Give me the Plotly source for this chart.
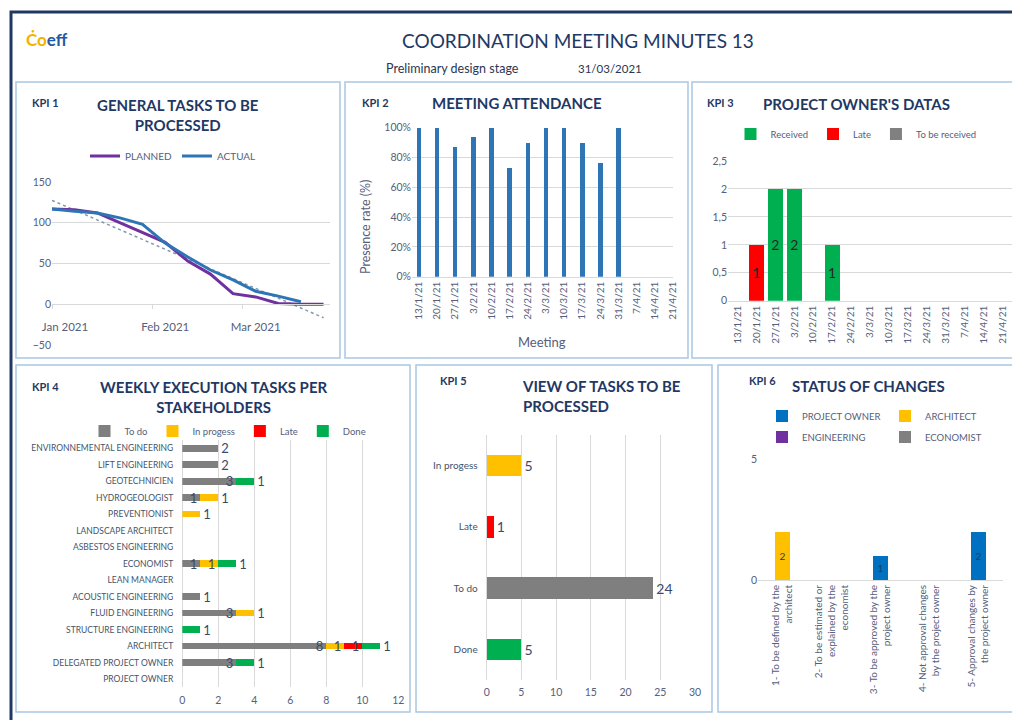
import numpy as np
import plotly.graph_objects as go

W, H = 1020, 720
# the page body keeps an 8 px margin, so layout positions are shifted by it
OX, OY = 8, 8

# KPI 1 - general tasks to be processed (weekly)
week_dates = ["2021-01-01", "2021-01-08", "2021-01-15", "2021-01-22", "2021-01-29",
              "2021-02-05", "2021-02-12", "2021-02-19", "2021-02-26",
              "2021-03-05", "2021-03-12", "2021-03-19", "2021-03-26"]
planned = [117, 116, 112, 100, 87, 76, 53, 37, 13, 9, 1, 0, 0]
actual = [117, 114, 112, 106, 98, 75, 58, 42, 30, 16, 10, 3]

# KPI 2 / KPI 3 - meetings
meetings = ["13/1/21", "20/1/21", "27/1/21", "3/2/21", "10/2/21", "17/2/21", "24/2/21",
            "3/3/21", "10/3/21", "17/3/21", "24/3/21", "31/3/21", "7/4/21", "14/4/21", "21/4/21"]
attendance = [1.0, 1.0, 0.87, 0.94, 1.0, 0.73, 0.90, 1.0, 1.0, 0.90, 0.76, 1.0, None, None, None]
data_received = [None, None, 2, 2, None, 1, None, None, None, None, None, None, None, None, None]
data_late = [None, 1, None, None, None, None, None, None, None, None, None, None, None, None, None]
data_to_receive = [None] * 15

# KPI 4 - weekly execution tasks per stakeholder
stakeholders = ["ENVIRONNEMENTAL ENGINEERING", "LIFT ENGINEERING", "GEOTECHNICIEN",
                "HYDROGEOLOGIST", "PREVENTIONIST", "LANDSCAPE ARCHITECT",
                "ASBESTOS ENGINEERING", "ECONOMIST", "LEAN MANAGER",
                "ACOUSTIC ENGINEERING", "FLUID ENGINEERING", "STRUCTURE ENGINEERING",
                "ARCHITECT", "DELEGATED PROJECT OWNER", "PROJECT OWNER"]
wk_todo = [2, 2, 3, 1, None, None, None, 1, None, 1, 3, None, 8, 3, None]
wk_inprog = [None, None, None, 1, 1, None, None, 1, None, None, 1, None, 1, None, None]
wk_late = [None, None, None, None, None, None, None, None, None, None, None, None, 1, None, None]
wk_done = [None, None, 1, None, None, None, None, 1, None, None, None, 1, 1, 1, None]

# KPI 5 - view of tasks
status_labels = ["In progess", "Late", "To do", "Done"]
status_counts = [5, 1, 24, 5]

# KPI 6 - status of changes
change_steps = ["1- To be defined by the<br>architect",
                "2- To be estimated or<br>explained by the<br>economist",
                "3- To be approved by the<br>project owner",
                "4- Not approval changes<br>by the project owner",
                "5- Approval changes by<br>the project owner"]
chg_owner = [None, None, 1, None, 2]
chg_architect = [2, None, None, None, None]
chg_engineering = [None] * 5
chg_economist = [None] * 5

NAVY = "#1f3864"
AXIS = "#56607a"
GRID = "#d9d9d9"
GREY = "#7f7f7f"
YELLOW = "#ffc000"
RED = "#ff0000"
GREEN = "#00b050"
BLUE = "#2e75b6"


def X(px):
    return (px - OX) / W


def Y(py):
    return 1 - (py - OY) / H


def labels(vals):
    return [str(v) if v else "" for v in vals]


fig = go.Figure()

# ---- KPI 1
idx = np.arange(len(planned))
coef = np.polyfit(idx, planned, 1)
trend = np.polyval(coef, idx)
fig.add_trace(go.Scatter(x=week_dates, y=trend, mode="lines", showlegend=False,
                         line=dict(color="#8497b0", width=1.5, dash="dot")))
fig.add_trace(go.Scatter(x=week_dates, y=planned, mode="lines", name="PLANNED",
                         line=dict(color="#7030a0", width=3)))
fig.add_trace(go.Scatter(x=week_dates[:len(actual)], y=actual, mode="lines", name="ACTUAL",
                         line=dict(color=BLUE, width=3)))

# ---- KPI 2
fig.add_trace(go.Bar(x=meetings, y=attendance, width=0.25, marker_color=BLUE,
                     showlegend=False, xaxis="x2", yaxis="y2"))

# ---- KPI 3
for name, vals, col in [("Received", data_received, GREEN), ("Late", data_late, RED),
                        ("To be received", data_to_receive, "#808080")]:
    fig.add_trace(go.Bar(x=meetings, y=vals, name=name, marker_color=col, width=0.78,
                         text=labels(vals), textposition="inside", insidetextanchor="middle",
                         textangle=0, constraintext="none",
                         textfont=dict(size=14, color="#262626"),
                         xaxis="x3", yaxis="y3", legend="legend2"))

# ---- KPI 4
for name, vals, col, anchor in [("To do", wk_todo, GREY, "end"),
                                ("In progess", wk_inprog, YELLOW, "middle"),
                                ("Late", wk_late, RED, "middle"),
                                ("Done", wk_done, GREEN, "middle")]:
    fig.add_trace(go.Bar(y=stakeholders, x=vals, orientation="h", name=name,
                         marker_color=col, width=0.4,
                         text=labels(vals), textposition="outside", insidetextanchor=anchor,
                         textangle=0, constraintext="none", cliponaxis=False,
                         textfont=dict(size=13, color="#3b4a6b"),
                         xaxis="x4", yaxis="y4", legend="legend3"))

# ---- KPI 5
fig.add_trace(go.Bar(y=status_labels, x=status_counts, orientation="h", width=0.35,
                     marker_color=[YELLOW, RED, GREY, GREEN], showlegend=False,
                     text=[str(v) for v in status_counts], textposition="outside",
                     textangle=0, constraintext="none", cliponaxis=False,
                     textfont=dict(size=14, color="#3b4a6b"),
                     xaxis="x5", yaxis="y5"))

# ---- KPI 6
for name, vals, col, lg in [("PROJECT OWNER", chg_owner, "#0070c0", "legend4"),
                            ("ARCHITECT", chg_architect, YELLOW, "legend4"),
                            ("ENGINEERING", chg_engineering, "#7030a0", "legend5"),
                            ("ECONOMIST", chg_economist, "#808080", "legend5")]:
    fig.add_trace(go.Bar(x=change_steps, y=vals, name=name, marker_color=col, width=0.32,
                         text=labels(vals), textposition="inside", insidetextanchor="middle",
                         textangle=0, constraintext="none",
                         textfont=dict(size=10, color=NAVY),
                         xaxis="x6", yaxis="y6", legend=lg))

tick_font = dict(size=10.5, color=AXIS)

# KPI 1 x axis sits on the zero line
k1_ydom = [Y(345), Y(182)]
k1_yrange = [-50, 150]
k1_xpos = k1_ydom[0] + (0 - k1_yrange[0]) / (k1_yrange[1] - k1_yrange[0]) * (k1_ydom[1] - k1_ydom[0])

leg_common = dict(orientation="h", bgcolor="rgba(0,0,0,0)", traceorder="normal",
                  font=dict(size=9.5, color=AXIS), yanchor="middle")

fig.update_layout(
    template="none",
    width=W, height=H, autosize=False,
    margin=dict(l=0, r=0, t=0, b=0, pad=0, autoexpand=False),
    paper_bgcolor="white", plot_bgcolor="white",
    font=dict(family="Lato, 'Open Sans', sans-serif", color=AXIS),
    separators=", ",
    barmode="stack",
    bargap=0.3,
    xaxis=dict(domain=[X(52), X(330)], anchor="free", position=k1_xpos, type="date",
               range=["2021-01-01", "2021-03-28"], dtick="M1", tickformat="%b %Y",
               ticks="outside", ticklen=4, tickcolor=GRID, showline=True, linecolor=GRID,
               showgrid=False, ticklabelshift=13, ticklabelstandoff=8,
               tickfont=dict(size=11.5, color=AXIS)),
    yaxis=dict(domain=k1_ydom, anchor="x", range=k1_yrange, dtick=50, gridcolor=GRID,
               zeroline=False, ticks="", tickfont=tick_font),
    xaxis2=dict(domain=[X(412), X(673)], anchor="y2", type="category", range=[-0.38, 14.0],
                tickangle=-90, showline=True, linecolor=GRID, showgrid=False, ticks="",
                tickfont=dict(size=10, color=AXIS)),
    yaxis2=dict(domain=[Y(276.7), Y(127.7)], anchor="x2", range=[0, 1], dtick=0.2,
                tickformat=".0%", gridcolor=GRID, zeroline=False, ticks="", tickfont=tick_font),
    xaxis3=dict(domain=[X(728), X(1012)], anchor="y3", type="category", range=[-0.5, 14.5],
                tickangle=-90, showline=True, linecolor=GRID, showgrid=False, ticks="",
                tickfont=dict(size=10, color=AXIS)),
    yaxis3=dict(domain=[Y(300.7), Y(161)], anchor="x3", range=[0, 2.5], dtick=0.5,
                gridcolor=GRID, zeroline=False, ticks="", tickfont=tick_font),
    xaxis4=dict(domain=[X(182.3), X(398.3)], anchor="y4", range=[0, 12], dtick=2,
                gridcolor=GRID, zeroline=True, zerolinecolor=GRID, ticks="", tickfont=tick_font,
                ticklabelstandoff=5),
    yaxis4=dict(domain=[Y(687.3), Y(440)], anchor="x4", type="category", autorange="reversed",
                showgrid=False, ticks="", tickfont=dict(size=8.5, color="#44546a"),
                ticklabelstandoff=8),
    xaxis5=dict(domain=[X(486.7), X(695)], anchor="y5", range=[0, 30], dtick=5,
                gridcolor=GRID, zeroline=True, zerolinecolor=GRID, ticks="", tickfont=tick_font,
                ticklabelstandoff=4),
    yaxis5=dict(domain=[Y(680), Y(435)], anchor="x5", type="category", autorange="reversed",
                showgrid=False, ticks="", tickfont=dict(size=10, color="#44546a"),
                ticklabelstandoff=8),
    xaxis6=dict(domain=[X(758), X(1003)], anchor="y6", type="category", tickangle=-90,
                showline=True, linecolor=GRID, showgrid=False, ticks="",
                tickfont=dict(size=10, color=AXIS)),
    yaxis6=dict(domain=[Y(580), Y(459)], anchor="x6", range=[0, 5], dtick=5,
                gridcolor=GRID, zeroline=False, ticks="", tickfont=tick_font),
    legend=dict(leg_common, x=X(173), y=Y(156), xanchor="center", font=dict(size=10, color=AXIS)),
    legend2=dict(leg_common, x=X(856), y=Y(134), xanchor="center"),
    legend3=dict(leg_common, x=X(228), y=Y(431), xanchor="center"),
    legend4=dict(leg_common, x=X(762), y=Y(416), xanchor="left", entrywidth=78),
    legend5=dict(leg_common, x=X(762), y=Y(437), xanchor="left", entrywidth=78),
)

# frame and panels
shapes = [dict(type="rect", xref="paper", yref="paper", x0=X(11), x1=X(1040), y0=Y(740), y1=Y(12),
               line=dict(color="#1f3864", width=3))]
panels = [(16, 82, 340, 358), (345, 82, 688, 358), (692, 82, 1016, 358),
          (16, 365, 410, 712), (416, 365, 712, 712), (718, 365, 1016, 712)]
for x0, y0, x1, y1 in panels:
    shapes.append(dict(type="rect", xref="paper", yref="paper", x0=X(x0), x1=X(x1),
                       y0=Y(y1), y1=Y(y0), line=dict(color="#a9c8e2", width=1.5)))
fig.update_layout(shapes=shapes)


def note(text, x, y, size, color=NAVY, xanchor="center", bold=False, angle=0, align="center"):
    if bold:
        text = "<b>" + text + "</b>"
    fig.add_annotation(text=text, x=X(x), y=Y(y), xref="paper", yref="paper",
                       xanchor=xanchor, yanchor="middle", showarrow=False, textangle=angle,
                       align=align, font=dict(size=size, color=color))


note("<span style='color:#f2b200'>Ċo</span><span style='color:#1f5aa6'>eff</span>",
     24, 40, 17, xanchor="left", bold=True)
note("COORDINATION MEETING MINUTES 13", 578, 41, 19)
note("Preliminary design stage", 452, 68, 12.5, color="#2b3650")
note("31/03/2021", 610, 68, 11.5, color="#2b3650")

for txt, x, y in [("KPI 1", 30, 103), ("KPI 2", 360, 103), ("KPI 3", 705, 103),
                  ("KPI 4", 30, 386), ("KPI 5", 438, 380), ("KPI 6", 747, 380)]:
    note(txt, x, y, 11, xanchor="left", bold=True)

note("GENERAL TASKS TO BE<br>PROCESSED", 178, 115, 15, bold=True)
note("MEETING ATTENDANCE", 517, 103, 15, bold=True)
note("PROJECT OWNER'S DATAS", 856, 104, 15, bold=True)
note("WEEKLY EXECUTION TASKS PER<br>STAKEHOLDERS", 214, 397, 15, bold=True)
note("VIEW OF TASKS TO BE<br>PROCESSED", 520, 396, 15, xanchor="left", bold=True, align="left")
note("STATUS OF CHANGES", 868, 386, 15, bold=True)

note("Meeting", 542, 342, 13, color=AXIS)
note("Presence rate (%)", 365, 227, 12.5, color=AXIS, angle=-90)

fig.write_html("out.html")
